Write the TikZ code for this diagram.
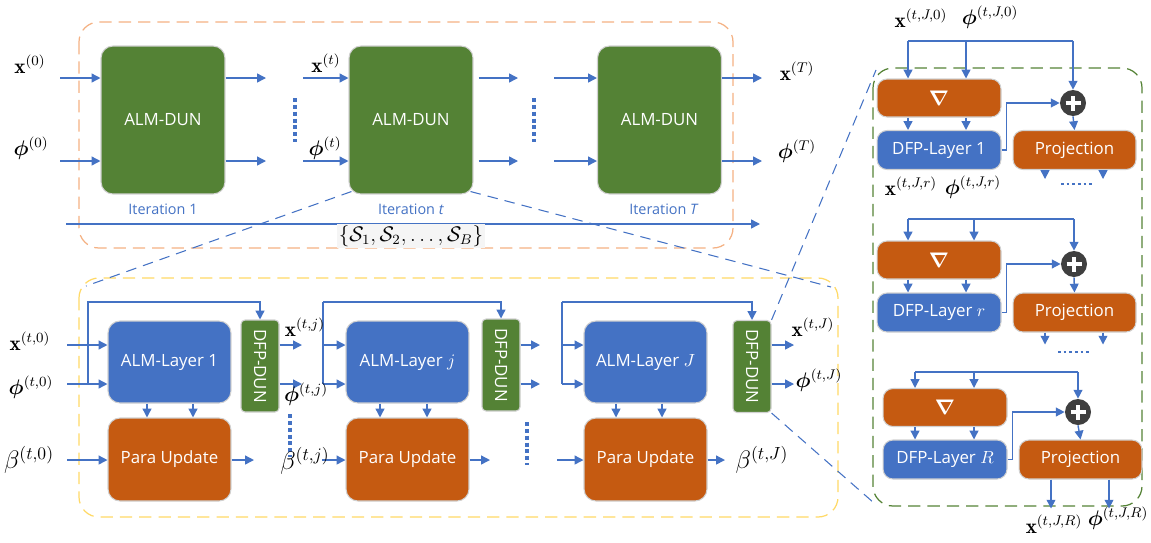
\documentclass[tikz,border=0pt]{standalone}
\usepackage{amsmath}
\usepackage{amssymb}
\usepackage{bm}
\usepackage{fontspec}
\setsansfont{Open Sans}
\usepackage{tikz}
\usetikzlibrary{arrows.meta,calc,positioning}
\definecolor{dgreen}{HTML}{548235}
\definecolor{mblue}{HTML}{4472C4}
\definecolor{morange}{HTML}{C55A11}
\definecolor{dgray}{HTML}{3F3F3F}
\definecolor{lorange}{HTML}{F4B183}
\definecolor{lyellow}{HTML}{FFD966}

\begin{document}
\begin{tikzpicture}[x=0.02cm,y=-0.02cm,
  box/.style={rounded corners=0.24cm, draw=black!18, line width=0.6pt, text=white, inner sep=0pt, font=\sffamily\fontsize{9.6}{11}\selectfont},
  itbox/.style={box, fill=dgreen, minimum width=2.48cm, minimum height=2.96cm},
  almbox/.style={box, fill=mblue, minimum width=2.46cm, minimum height=1.64cm},
  pubox/.style={box, fill=morange, minimum width=2.46cm, minimum height=1.66cm},
  dfpbox/.style={box, fill=dgreen, rounded corners=0.08cm, minimum width=0.76cm, minimum height=1.84cm},
  gradbox/.style={box, fill=morange, rounded corners=0.2cm, minimum width=2.48cm, minimum height=0.76cm},
  layerbox/.style={box, fill=mblue, rounded corners=0.2cm, minimum width=2.48cm, minimum height=0.78cm},
  projbox/.style={box, fill=morange, rounded corners=0.2cm, minimum width=2.46cm, minimum height=0.78cm},
  plusc/.style={circle, fill=dgray, minimum size=0.52cm, inner sep=0pt,
    path picture={\draw[white, line width=2pt] (path picture bounding box.center) +(-0.15cm,0) -- +(0.15cm,0) +(0,-0.15cm) -- +(0,0.15cm);}},
  line/.style={mblue, line width=0.8pt},
  arr/.style={line, -{Triangle[length=5pt,width=5pt]}},
  lab/.style={inner sep=0pt, font=\fontsize{12}{14}\selectfont},
  blab/.style={inner sep=0pt, font=\fontsize{14}{16}\selectfont},
  itlab/.style={mblue, inner sep=0pt, font=\sffamily\fontsize{8.2}{10}\selectfont},
  vdots/.style={mblue, line width=2.3pt, dash pattern=on 2.3pt off 1.6pt},
  hdots/.style={mblue, line width=1.6pt, dash pattern=on 1.6pt off 1.6pt},
  zoomline/.style={mblue, line width=0.6pt, dash pattern=on 6pt off 4pt},
  frame/.style={rounded corners=0.4cm, line width=0.7pt, dash pattern=on 7pt off 4pt}]
\useasboundingbox (0,0) rectangle (1151,542);

\draw[frame, lorange] (79,22) rectangle (733,248);
\draw[frame, lyellow] (79,278) rectangle (838,517);
\draw[frame, dgreen] (873,68) rectangle (1142,506);

\node[itbox] (it1) at (163,120) {ALM-DUN};
\node[itbox] (itt) at (411,120) {ALM-DUN};
\node[itbox] (itT) at (659.5,120) {ALM-DUN};
\node[itlab] (l1) at (163,209) {Iteration 1};
\node[itlab] (lt) at (411,209) {Iteration \textit{t}};
\node[itlab] (lT) at (664,209) {Iteration \textit{T}};

\coordinate (x0) at (60,78);
\coordinate (p0) at (60,161);
\coordinate (x1o) at (266,78);
\coordinate (p1o) at (266,161);
\coordinate (xt) at (303,78);
\coordinate (pt) at (303,161);
\coordinate (xto) at (518,78);
\coordinate (pto) at (518,161);
\coordinate (xT) at (554,78);
\coordinate (pT) at (554,161);
\coordinate (xTo) at (762,78);
\coordinate (pTo) at (762,161);
\draw[arr] (x0) -- (it1.west |- x0);
\draw[arr] (p0) -- (it1.west |- p0);
\draw[arr] (it1.east |- x1o) -- (x1o);
\draw[arr] (it1.east |- p1o) -- (p1o);
\draw[arr] (xt) -- (itt.west |- xt);
\draw[arr] (pt) -- (itt.west |- pt);
\draw[arr] ($(itt.east |- xto)+(5,0)$) -- (xto);
\draw[arr] ($(itt.east |- pto)+(5,0)$) -- (pto);
\draw[arr] (xT) -- (itT.west |- xT);
\draw[arr] (pT) -- (itT.west |- pT);
\draw[arr] (itT.east |- xTo) -- (xTo);
\draw[arr] (itT.east |- pTo) -- (pTo);
\draw[vdots] (295,98) -- (295,142);
\draw[vdots] (534,98) -- (534,142);

\node[lab] (lx0) at (30,64) {$\mathbf{x}^{(0)}$};
\node[lab] (lp0) at (31,148) {$\boldsymbol{\phi}^{(0)}$};
\node[lab] (lxt) at (326,63) {$\mathbf{x}^{(t)}$};
\node[lab] (lpt) at (325,148) {$\boldsymbol{\phi}^{(t)}$};
\node[lab] (lxT) at (797,71) {$\mathbf{x}^{(T)}$};
\node[lab] (lpT) at (797,151) {$\boldsymbol{\phi}^{(T)}$};

\coordinate (sa) at (66,224);
\coordinate (sb) at (760,224);
\draw[arr] (sa) -- (sb);
\node[lab, fill=black!4, inner sep=1pt] (bat) at (411,236) {$\{\mathcal{S}_1,\mathcal{S}_2,\ldots,\mathcal{S}_B\}$};

\node[almbox] (alm1) at (169.5,362) {ALM-Layer 1};
\node[almbox] (almj) at (407.5,362) {ALM-Layer $j$};
\node[almbox] (almJ) at (645.5,362) {ALM-Layer $J$};
\node[pubox] (pu1) at (169.5,459.5) {Para Update};
\node[pubox] (puj) at (407.5,459.5) {Para Update};
\node[pubox] (puJ) at (645.5,459.5) {Para Update};
\node[dfpbox] (dfp1) at (260,366) {\rotatebox{-90}{DFP-DUN}};
\node[dfpbox] (dfpj) at (501,365) {\rotatebox{-90}{DFP-DUN}};
\node[dfpbox] (dfpJ) at (752,366.5) {\rotatebox{-90}{DFP-DUN}};

\coordinate (xi1) at (67,345);
\coordinate (pi1) at (67,384);
\coordinate (bi1) at (67,460);
\coordinate (fb1) at (88,384);
\coordinate (ft1) at (88,302);
\coordinate (xo1) at (302,345);
\coordinate (po1) at (302,384);
\coordinate (bo1) at (254,460);
\draw[arr] (xi1) -- (alm1.west |- xi1);
\draw[arr] (pi1) -- (alm1.west |- pi1);
\draw[arr] (bi1) -- (pu1.west |- bi1);
\draw[arr] (fb1) -- (ft1) -| (dfp1.north);
\draw[arr] (alm1.south -| 147,0) -- (pu1.north -| 147,0);
\draw[arr] (alm1.south -| 193,0) -- (pu1.north -| 193,0);
\draw[arr] (dfp1.east |- xo1) -- (xo1);
\draw[arr] (dfp1.east |- po1) -- (po1);
\draw[arr] (pu1.east |- bo1) -- (bo1);

\coordinate (xij) at (323,345);
\coordinate (fbj) at (323,384);
\coordinate (ftj) at (323,302);
\coordinate (bij) at (322,460);
\coordinate (xoj) at (540,345);
\coordinate (poj) at (540,384);
\coordinate (boj) at (490,460);
\draw[line] (fbj) -- (ftj);
\draw[arr] (ftj) -| (dfpj.north);
\draw[arr] (xij) -- (almj.west |- xij);
\draw[arr] (fbj) -- (almj.west |- fbj);
\draw[arr] (bij) -- (puj.west |- bij);
\draw[arr] (almj.south -| 380,0) -- (puj.north -| 380,0);
\draw[arr] (almj.south -| 427,0) -- (puj.north -| 427,0);
\draw[arr] (dfpj.east |- xoj) -- (xoj);
\draw[arr] (dfpj.east |- poj) -- (poj);
\draw[arr] (puj.east |- boj) -- (boj);

\coordinate (xiJ) at (562,345);
\coordinate (fbJ) at (562,384);
\coordinate (ftJ) at (562,302);
\coordinate (biJ) at (557,460);
\coordinate (xoJ) at (794,345);
\coordinate (poJ) at (794,384);
\coordinate (boJ) at (725,460);
\draw[line] (fbJ) -- (ftJ);
\draw[arr] (ftJ) -| (dfpJ.north);
\draw[arr] (xiJ) -- (almJ.west |- xiJ);
\draw[arr] (fbJ) -- (almJ.west |- fbJ);
\draw[arr] (biJ) -- (puJ.west |- biJ);
\draw[arr] (almJ.south -| 616,0) -- (puJ.north -| 616,0);
\draw[arr] (almJ.south -| 662,0) -- (puJ.north -| 662,0);
\draw[arr] (dfpJ.east |- xoJ) -- (xoJ);
\draw[arr] (dfpJ.east |- poJ) -- (poJ);
\draw[arr] (puJ.east |- boJ) -- (boJ);
\draw[vdots] (290,414) -- (290,457);
\draw[vdots] (527,422) -- (527,465);

\node[lab] (lx10) at (30,341) {$\mathbf{x}^{(t,0)}$};
\node[lab] (lp10) at (31,387) {$\boldsymbol{\phi}^{(t,0)}$};
\node[blab] (lb10) at (29,460) {$\beta^{(t,0)}$};
\node[lab] (lxj) at (305,327) {$\mathbf{x}^{(t,j)}$};
\node[lab] (lpj) at (306,394) {$\boldsymbol{\phi}^{(t,j)}$};
\node[blab] (lbj) at (305,461) {$\beta^{(t,j)}$};
\node[lab] (lxJ) at (813,327) {$\mathbf{x}^{(t,J)}$};
\node[lab] (lpJ) at (819,380) {$\boldsymbol{\phi}^{(t,J)}$};
\node[blab] (lbJ) at (762,460) {$\beta^{(t,J)}$};

\coordinate (zl) at (86,286);
\coordinate (zr) at (831,287);
\coordinate (gl) at (876,70);
\coordinate (gb) at (874,503);
\draw[zoomline] ($(itt.south west)+(3,-3)$) -- (zl);
\draw[zoomline] ($(itt.south east)+(-3,-3)$) -- (zr);
\draw[zoomline] (dfpJ.north east) -- (gl);
\draw[zoomline] (dfpJ.south east) -- (gb);

\node[gradbox] (g1) at (939,98) {\fontsize{12}{14}\selectfont$\boldsymbol{\nabla}$};
\node[layerbox] (d1) at (939,150) {DFP-Layer 1};
\node[plusc] (c1) at (1073,103) {};
\node[projbox] (pr1) at (1074.5,150) {Projection};
\coordinate (ta1) at (908,41);
\coordinate (tb1) at (966,41);
\coordinate (tc1) at (1073,41);
\draw[line] (ta1) -- (tc1);
\draw[arr] (ta1) -- (g1.north -| ta1);
\draw[arr] (tb1) -- (g1.north -| tb1);
\draw[arr] (tc1) -- (c1.north);
\draw[arr] (g1.south -| 908,0) -- (d1.north -| 908,0);
\draw[arr] (g1.south -| 966,0) -- (d1.north -| 966,0);
\draw[arr] (d1.east) -- ++(5,0) |- (c1.west);
\draw[arr] (c1.south) -- (pr1.north);
\draw[arr] (pr1.south -| 1045,0) -- ++(0,9);
\draw[arr] (pr1.south -| 1103,0) -- ++(0,9);
\draw[hdots] (1061,184) -- (1093,184);
\node[lab] (lxa) at (921,18) {$\mathbf{x}^{(t,J,0)}$};
\node[lab] (lpa) at (990,17) {$\boldsymbol{\phi}^{(t,J,0)}$};
\node[lab] (lxr) at (911,186) {$\mathbf{x}^{(t,J,r)}$};
\node[lab] (lpr) at (973,187) {$\boldsymbol{\phi}^{(t,J,r)}$};

\node[gradbox] (g2) at (939,260) {\fontsize{12}{14}\selectfont$\boldsymbol{\nabla}$};
\node[layerbox] (d2) at (939,312.5) {DFP-Layer $r$};
\node[plusc] (c2) at (1074,264) {};
\node[projbox] (pr2) at (1074.5,312.5) {Projection};
\coordinate (ta2) at (908,219);
\coordinate (tb2) at (974,219);
\coordinate (tc2) at (1074,219);
\draw[line] (ta2) -- (tc2);
\draw[arr] (ta2) -- (g2.north -| ta2);
\draw[arr] (tb2) -- (g2.north -| tb2);
\draw[arr] (tc2) -- (c2.north);
\draw[arr] (g2.south -| 908,0) -- (d2.north -| 908,0);
\draw[arr] (g2.south -| 966,0) -- (d2.north -| 966,0);
\draw[arr] (d2.east) -- ++(5,0) |- (c2.west);
\draw[arr] (c2.south) -- (pr2.north);
\draw[arr] (pr2.south -| 1045,0) -- ++(0,12);
\draw[arr] (pr2.south -| 1103,0) -- ++(0,12);
\draw[hdots] (1058,352) -- (1090,352);

\node[gradbox] (g3) at (945,407.5) {\fontsize{12}{14}\selectfont$\boldsymbol{\nabla}$};
\node[layerbox] (d3) at (945,459.5) {DFP-Layer $R$};
\node[plusc] (c3) at (1078,412) {};
\node[projbox] (pr3) at (1080.5,459.5) {Projection};
\coordinate (ta3) at (915,372);
\coordinate (tb3) at (974,372);
\coordinate (tc3) at (1078,372);
\draw[line] (ta3) -- (tc3);
\draw[arr] (ta3) -- (g3.north -| ta3);
\draw[arr] (tb3) -- (g3.north -| tb3);
\draw[arr] (tc3) -- (c3.north);
\draw[arr] (g3.south -| 915,0) -- (d3.north -| 915,0);
\draw[arr] (g3.south -| 974,0) -- (d3.north -| 974,0);
\draw[arr] (d3.east) -- ++(5,0) |- (c3.west);
\draw[arr] (c3.south) -- (pr3.north);
\draw[arr] (pr3.south -| 1051,0) -- ++(0,29);
\draw[arr] (pr3.south -| 1109,0) -- ++(0,29);
\node[lab] (lxR) at (1054,524) {$\mathbf{x}^{(t,J,R)}$};
\node[lab] (lpR) at (1118,518) {$\boldsymbol{\phi}^{(t,J,R)}$};
\end{tikzpicture}
\end{document}
